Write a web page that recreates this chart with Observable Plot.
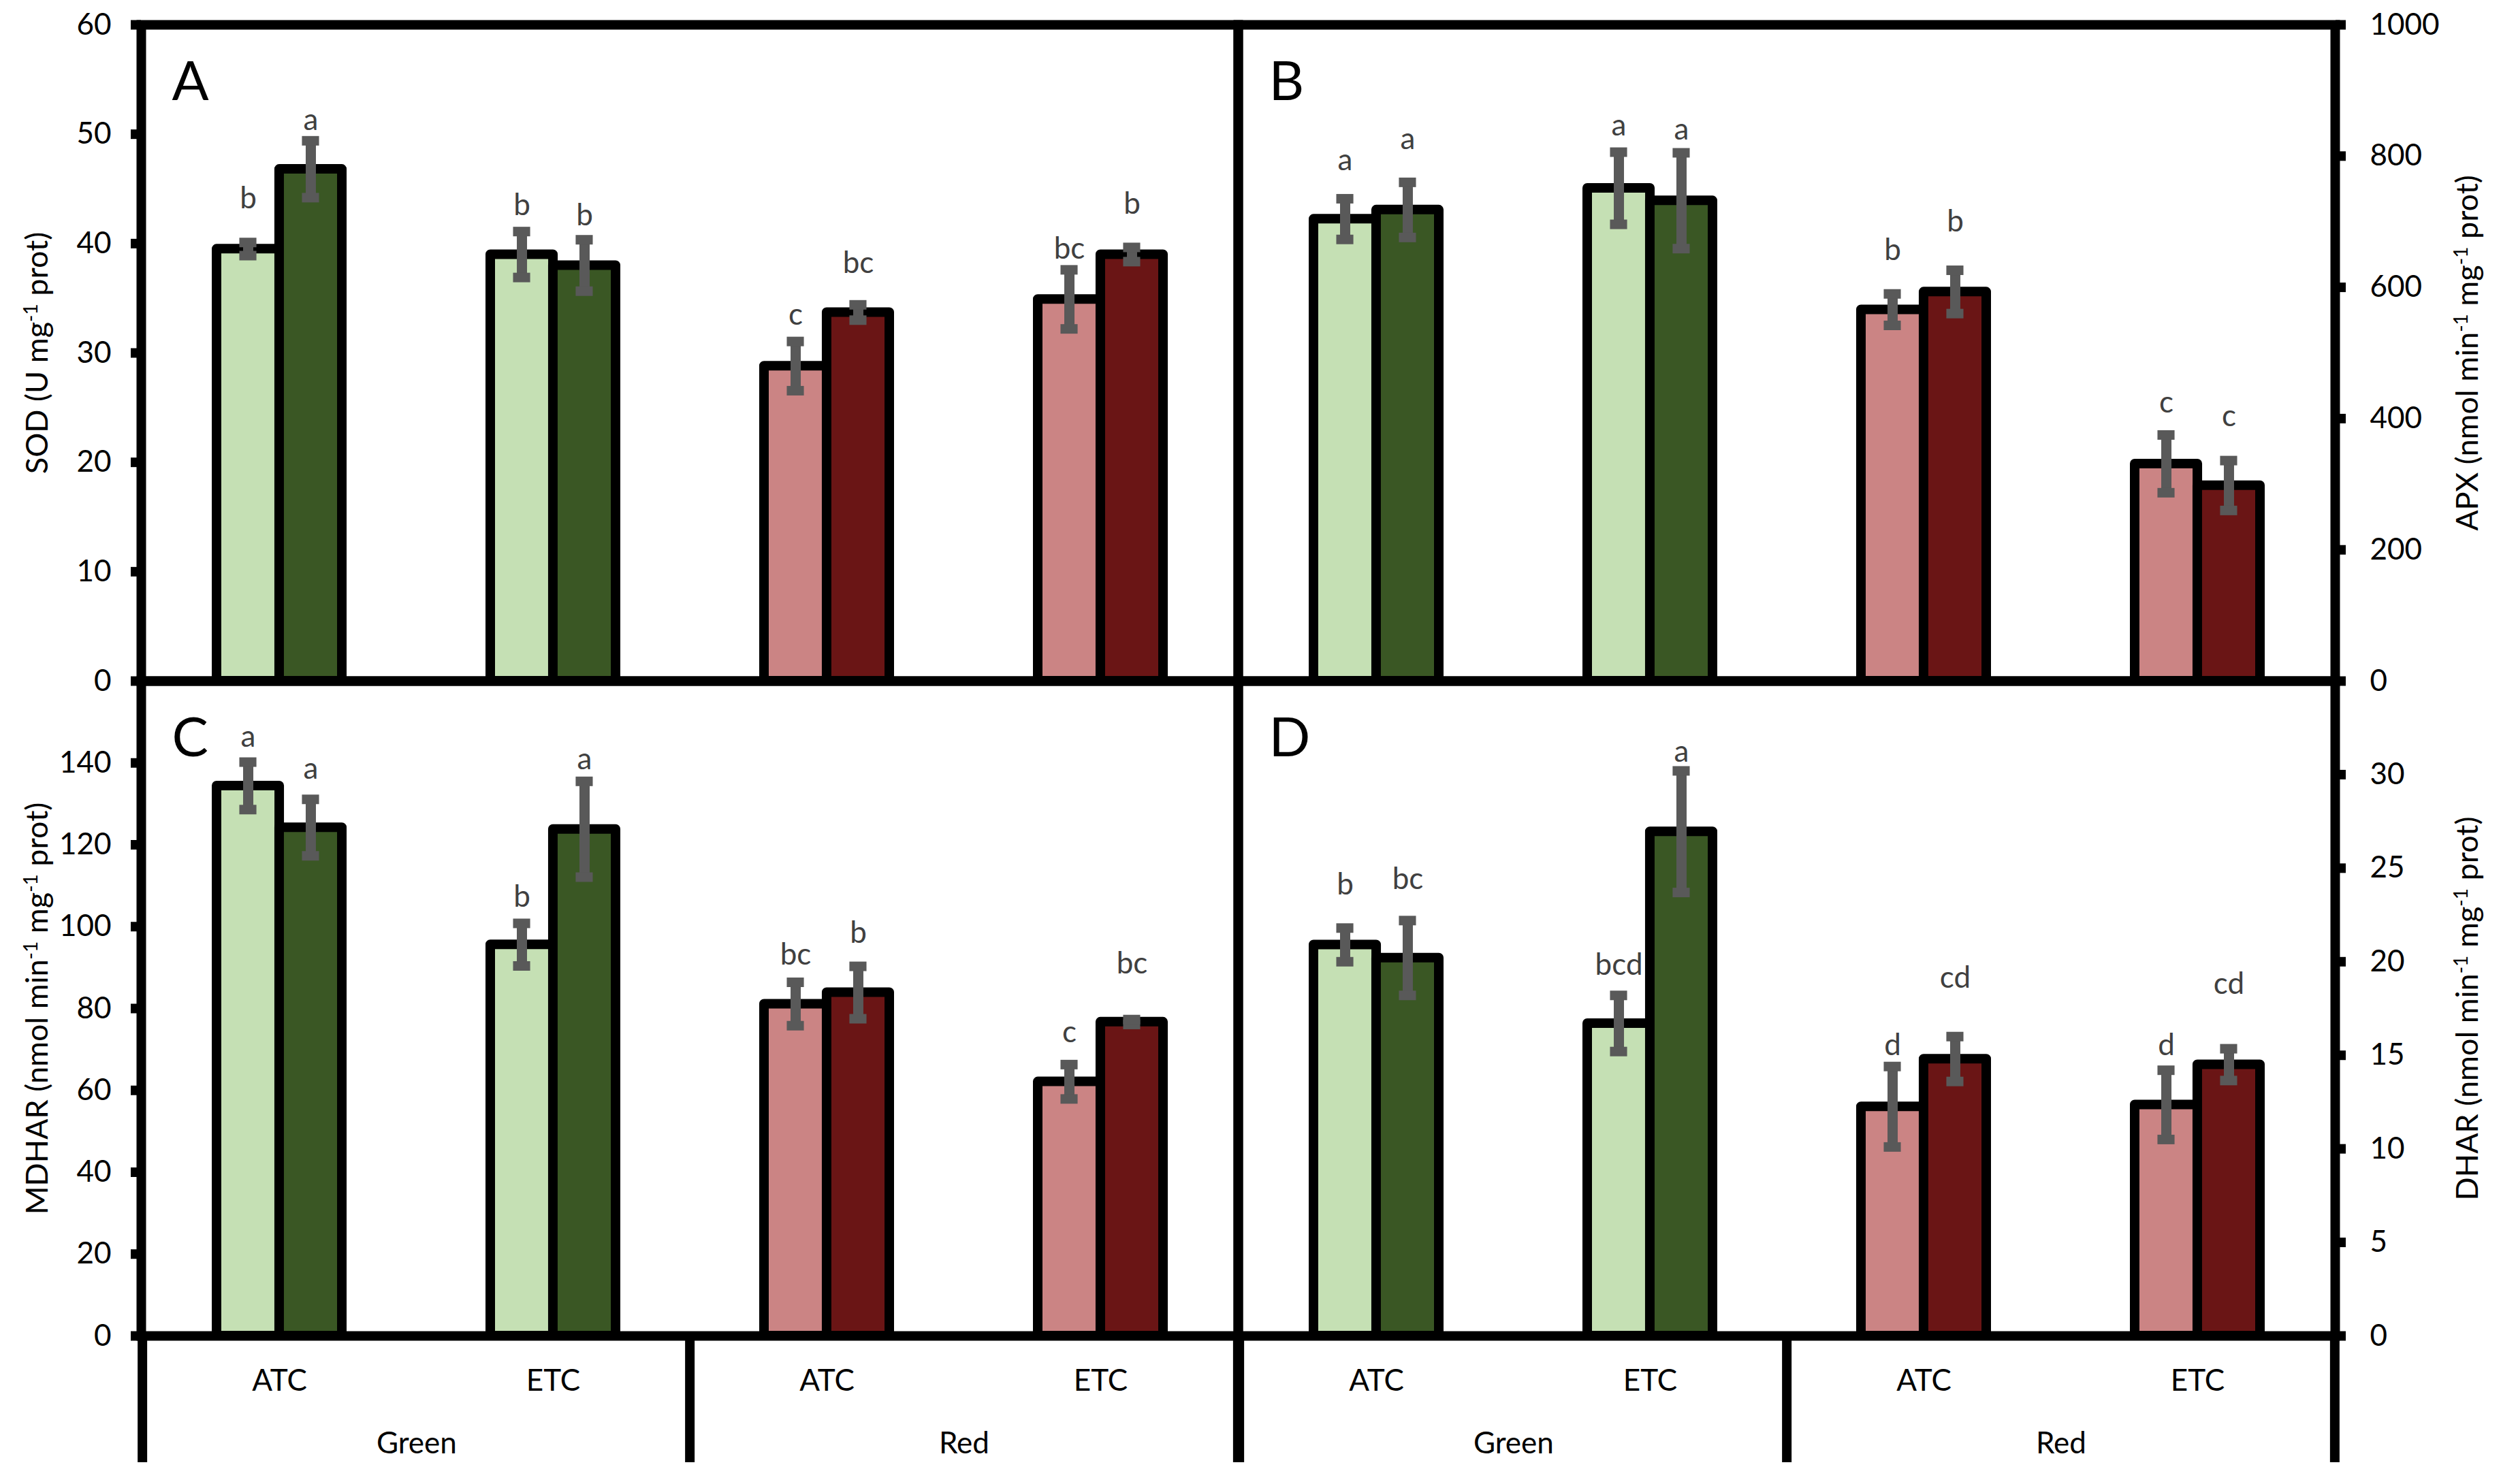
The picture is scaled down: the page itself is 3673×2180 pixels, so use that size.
<!DOCTYPE html>
<html><head><meta charset="utf-8">
<script src="https://cdn.jsdelivr.net/npm/d3@7"></script>
<script src="https://cdn.jsdelivr.net/npm/@observablehq/plot@0.6"></script>
<style>
html,body{margin:0;padding:0;background:#fff;overflow:hidden;}
#wrap{position:relative;width:3673px;height:2180px;background:#fff;}
.cell{position:absolute;}
.cell svg{max-width:none;overflow:visible;display:block;}
</style></head>
<body><div id="wrap"></div>
<script>
// ---------------- data ----------------
const groups = ["Green", "Red"];
const treatments = ["ATC", "ETC"];
const categories = ["Green ATC", "Green ETC", "Red ATC", "Red ETC"];
const categoryGroup = ["Green", "Green", "Red", "Red"];
const categoryTreatment = ["ATC", "ETC", "ATC", "ETC"];

// SOD (panel A)
const sodLight = [39.5, 39.0, 28.8, 34.9];
const sodLightErr = [0.6, 2.1, 2.25, 2.7];
const sodLightLetters = ["b", "b", "c", "bc"];
const sodLightLetterY = [43.2, 42.6, 32.6, 38.6];
const sodDark = [46.8, 38.0, 33.7, 39.0];
const sodDarkErr = [2.6, 2.35, 0.7, 0.65];
const sodDarkLetters = ["a", "b", "bc", "b"];
const sodDarkLetterY = [50.4, 41.7, 37.3, 42.7];
const sodTicks = [0, 10, 20, 30, 40, 50, 60];

// APX (panel B)
const apxLight = [704, 751, 566, 331];
const apxLightErr = [31, 55, 24, 44];
const apxLightLetters = ["a", "a", "b", "c"];
const apxLightLetterY = [779, 831, 642, 409];
const apxDark = [718, 732, 593, 298];
const apxDarkErr = [42, 73, 33, 38];
const apxDarkLetters = ["a", "a", "b", "c"];
const apxDarkLetterY = [811, 825, 685, 389];
const apxTicks = [0, 200, 400, 600, 800, 1000];

// MDHAR (panel C)
const mdharLight = [134.4, 95.6, 81.1, 62.1];
const mdharLightErr = [5.8, 5.2, 5.3, 4.2];
const mdharLightLetters = ["a", "b", "bc", "c"];
const mdharLightLetterY = [144.0, 104.8, 90.8, 71.7];
const mdharDark = [124.2, 123.8, 83.9, 76.7];
const mdharDarkErr = [6.9, 11.7, 6.4, 0.6];
const mdharDarkLetters = ["a", "a", "b", "bc"];
const mdharDarkLetterY = [136.2, 138.5, 96.1, 88.6];
const mdharTicks = [0, 20, 40, 60, 80, 100, 120, 140];

// DHAR (panel D)
const dharLight = [20.9, 16.7, 12.25, 12.35];
const dharLightErr = [0.9, 1.5, 2.15, 1.85];
const dharLightLetters = ["b", "bcd", "d", "d"];
const dharLightLetterY = [23.6, 19.3, 15.0, 15.0];
const dharDark = [20.2, 26.95, 14.8, 14.5];
const dharDarkErr = [2.0, 3.25, 1.2, 0.85];
const dharDarkLetters = ["bc", "a", "cd", "cd"];
const dharDarkLetterY = [23.9, 30.7, 18.6, 18.3];
const dharTicks = [0, 5, 10, 15, 20, 25, 30];

// ---------------- styles ----------------
const lightFill = {Green: "#C5E0B4", Red: "#CB8484"};
const darkFill = {Green: "#3A5724", Red: "#6A1515"};
const FONT = "Lato, 'Open Sans', sans-serif";
const errColor = "#595959";
const letterColor = "#404040";

// ---------------- layout ----------------
const axisL = 207, mid = 1818, axisR = 3429;
const topY = 36, midY = 1000, botY = 1962, stripEnd = 2148;
const PW = mid - axisL;          // plot width of each half
const step = PW / 4;
const padInner = 0.5434, padOuter = padInner / 2;
const bw = step * (1 - padInner);
const capW = 25;

function rows(vals, errs, letters, ly, fillMap) {
  return categories.map((c, i) => ({
    cat: c, group: categoryGroup[i], value: vals[i], err: errs[i],
    letter: letters[i], letterY: ly[i], fill: fillMap[categoryGroup[i]]
  }));
}

function panel({light, dark, ticks, domain, title, letter, side}) {
  const isLeft = side === "left";
  const width = isLeft ? (mid + 10) : (3673 - (mid - 10));
  const mL = isLeft ? axisL : 10;
  const mR = isLeft ? 10 : 3673 - axisR;
  const series = [[light, -1], [dark, 1]];
  const marks = [];
  marks.push(Plot.barY(light, {x: "cat", y: "value", fill: "fill", stroke: "#000", strokeWidth: 14, strokeLinejoin: "round", insetRight: bw / 2}));
  marks.push(Plot.barY(dark, {x: "cat", y: "value", fill: "fill", stroke: "#000", strokeWidth: 14, strokeLinejoin: "round", insetLeft: bw / 2}));
  marks.push(Plot.frame({stroke: "#000", strokeWidth: 14}));
  for (const [data, s] of series) {
    const off = s * bw / 4;
    const capCenter = bw / 2 + off;
    marks.push(Plot.ruleX(data, {x: "cat", y1: d => d.value - d.err, y2: d => d.value + d.err, dx: off, stroke: errColor, strokeWidth: 15}));
    for (const sign of [-1, 1]) {
      marks.push(Plot.tickY(data, {x: "cat", y: d => d.value + sign * d.err, insetLeft: capCenter - capW / 2, insetRight: bw - capCenter - capW / 2, stroke: errColor, strokeWidth: 14}));
    }
    marks.push(Plot.text(data, {x: "cat", y: "letterY", text: "letter", dx: off, lineAnchor: "bottom", fill: letterColor, fontSize: 44}));
  }
  marks.push(Plot.text([letter], {frameAnchor: "top-left", text: d => d, dx: 45, dy: 110, lineAnchor: "bottom", textAnchor: "start", fontSize: 80, fill: "#000"}));
  marks.push(Plot.axisY({anchor: isLeft ? "left" : "right", ticks, tickFormat: d => String(d), tickSize: 15, tickPadding: isLeft ? 29 : 36, strokeWidth: 14, fontSize: 44, label: null}));
  marks.push(Plot.text([title], {frameAnchor: isLeft ? "left" : "right", text: d => d, rotate: -90, textAnchor: "middle", lineAnchor: "middle", dx: isLeft ? -152 : 195, fontSize: 45, fill: "#000"}));
  return {width, mL, mR, marks, domain};
}

function render(cfg, top, height, mT, mB, left) {
  const p = panel(cfg);
  const svg = Plot.plot({
    width: p.width, height, marginLeft: p.mL, marginRight: p.mR, marginTop: mT, marginBottom: mB,
    x: {type: "band", domain: categories, paddingInner: padInner, paddingOuter: padOuter, axis: null},
    y: {domain: p.domain, label: null},
    color: {type: "identity"},
    style: `background:transparent;overflow:visible;font-family:${FONT};font-size:44px;color:#000;max-width:none;`,
    marks: p.marks
  });
  superscripts(svg);
  place(svg, left, top, p.width, height);
}

function strip(left, width, mL, mR) {
  const svg = Plot.plot({
    width, height: stripEnd - botY, marginLeft: mL, marginRight: mR, marginTop: 0, marginBottom: 0,
    x: {type: "band", domain: categories, paddingInner: padInner, paddingOuter: padOuter, axis: null},
    y: {domain: [0, 1], axis: null},
    style: `background:transparent;overflow:visible;font-family:${FONT};font-size:44px;color:#000;max-width:none;`,
    marks: [
      Plot.ruleX([categories[0], categories[2]], {x: d => d, dx: -step / 2, stroke: "#000", strokeWidth: 14}),
      Plot.ruleX([categories[3]], {x: d => d, dx: step / 2, stroke: "#000", strokeWidth: 14}),
      Plot.text(categories, {x: d => d, text: (d, i) => categoryTreatment[i], frameAnchor: "top", lineAnchor: "middle", dy: 66, fontSize: 44, fill: "#000"}),
      Plot.text(groups, {x: g => categories[categoryGroup.indexOf(g)], dx: step / 2, text: d => d, frameAnchor: "top", lineAnchor: "middle", dy: 158, fontSize: 44, fill: "#000"})
    ]
  });
  place(svg, left, botY, width, stripEnd - botY);
}

function superscripts(svg) {
  const NS = "http://www.w3.org/2000/svg";
  svg.querySelectorAll("text").forEach(t => {
    const s = t.textContent;
    if (!s.includes("^-1")) return;
    const parts = s.split("^-1");
    t.textContent = "";
    parts.forEach((p, i) => {
      const ts = document.createElementNS(NS, "tspan");
      ts.textContent = p;
      if (i > 0) ts.setAttribute("dy", "15");
      t.appendChild(ts);
      if (i < parts.length - 1) {
        const sup = document.createElementNS(NS, "tspan");
        sup.textContent = "-1";
        sup.setAttribute("dy", "-15");
        sup.setAttribute("font-size", "28");
        t.appendChild(sup);
      }
    });
  });
}

const wrap = document.getElementById("wrap");
function place(node, left, top, w, h) {
  const d = document.createElement("div");
  d.className = "cell";
  d.style.left = left + "px"; d.style.top = top + "px";
  d.style.width = w + "px"; d.style.height = h + "px";
  d.appendChild(node);
  wrap.appendChild(d);
}

const topH = midY + 10, botH = (botY + 10) - (midY - 10);

render({light: rows(sodLight, sodLightErr, sodLightLetters, sodLightLetterY, lightFill),
        dark: rows(sodDark, sodDarkErr, sodDarkLetters, sodDarkLetterY, darkFill),
        ticks: sodTicks, domain: [0, 60], title: "SOD (U mg^-1 prot)", letter: "A", side: "left"},
       0, topH, topY, 10, 0);
render({light: rows(apxLight, apxLightErr, apxLightLetters, apxLightLetterY, lightFill),
        dark: rows(apxDark, apxDarkErr, apxDarkLetters, apxDarkLetterY, darkFill),
        ticks: apxTicks, domain: [0, 1000], title: "APX (nmol min^-1 mg^-1 prot)", letter: "B", side: "right"},
       0, topH, topY, 10, mid - 10);
render({light: rows(mdharLight, mdharLightErr, mdharLightLetters, mdharLightLetterY, lightFill),
        dark: rows(mdharDark, mdharDarkErr, mdharDarkLetters, mdharDarkLetterY, darkFill),
        ticks: mdharTicks, domain: [0, 160], title: "MDHAR (nmol min^-1 mg^-1 prot)", letter: "C", side: "left"},
       midY - 10, botH, 10, 10, 0);
render({light: rows(dharLight, dharLightErr, dharLightLetters, dharLightLetterY, lightFill),
        dark: rows(dharDark, dharDarkErr, dharDarkLetters, dharDarkLetterY, darkFill),
        ticks: dharTicks, domain: [0, 35], title: "DHAR (nmol min^-1 mg^-1 prot)", letter: "D", side: "right"},
       midY - 10, botH, 10, 10, mid - 10);

strip(0, mid + 10, axisL, 10);
strip(mid - 10, 3673 - (mid - 10), 10, 3673 - axisR);
</script>
</body></html>
